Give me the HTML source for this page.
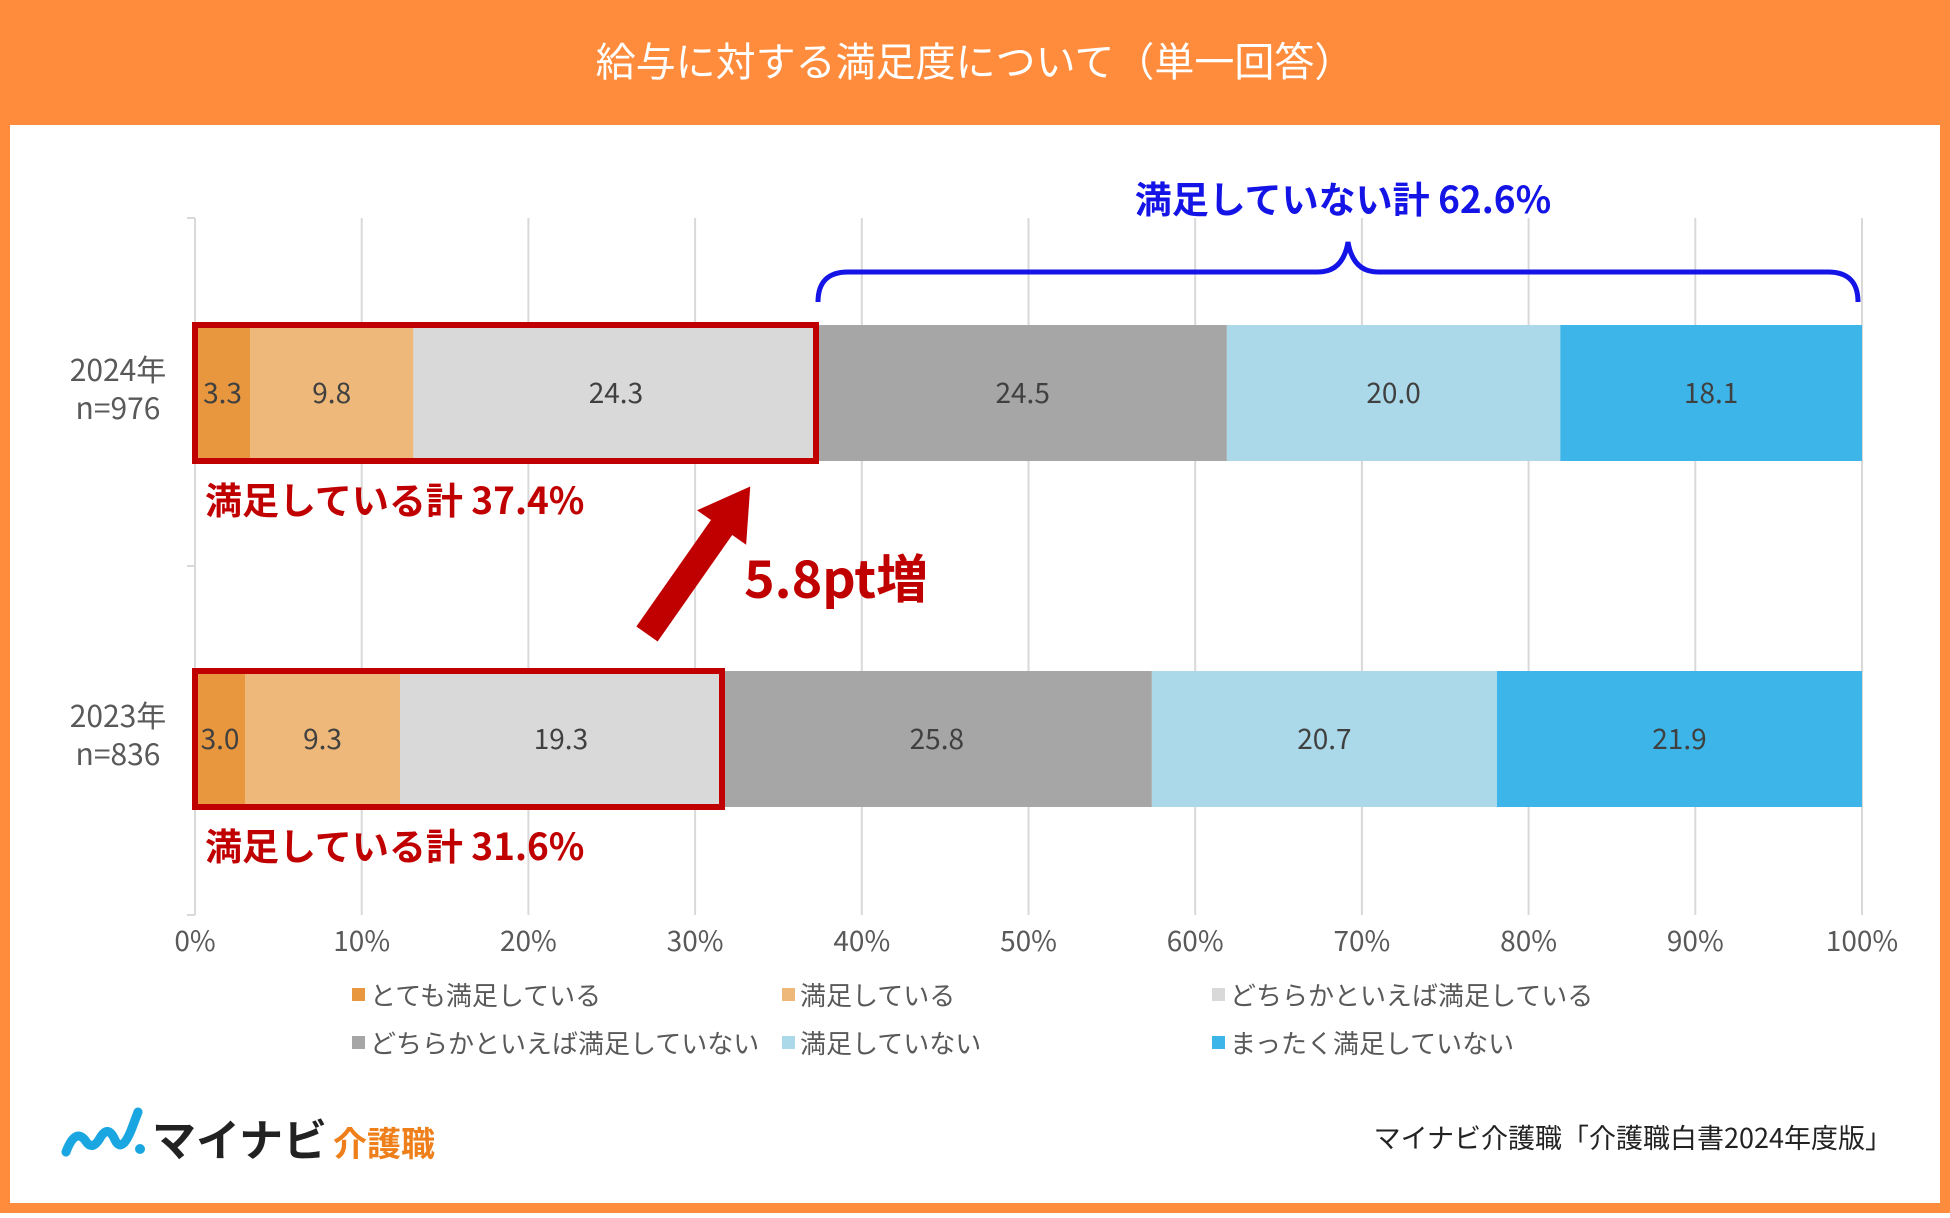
<!DOCTYPE html>
<html><head><meta charset="utf-8"><style>
body{margin:0;width:1950px;height:1213px;overflow:hidden;font-family:"Noto Sans CJK JP",sans-serif;}
</style></head><body>
<svg width="1950" height="1213" xmlns="http://www.w3.org/2000/svg" font-family="'Noto Sans CJK JP','Liberation Sans',sans-serif">
<rect x="0" y="0" width="1950" height="1213" fill="#FF8C3C"/>
<rect x="10" y="125" width="1930" height="1078" fill="#fff"/>
<text x="975" y="76" font-size="40" fill="#fff" text-anchor="middle">給与に対する満足度について（単一回答）</text>
<g id="grid"></g>
<g id="bars"></g>
<g id="legend"></g>
<rect x="195" y="325" width="621" height="136" fill="none" stroke="#C00000" stroke-width="6"/>
<rect x="195" y="671" width="527" height="136" fill="none" stroke="#C00000" stroke-width="6"/>
<text x="205" y="514" font-size="37" font-weight="bold" fill="#C00000">満足している計 37.4%</text>
<text x="205" y="860" font-size="37" font-weight="bold" fill="#C00000">満足している計 31.6%</text>
<path d="M818,302 Q818,272 848,272 L1318,272 Q1343,272 1348,242 Q1353,272 1378,272 L1828,272 Q1858,272 1858,302" fill="none" stroke="#1414E6" stroke-width="5"/>
<text x="1343" y="213" font-size="37" font-weight="bold" fill="#1414E6" text-anchor="middle">満足していない計 62.6%</text>
<g transform="translate(647,634) rotate(-55)">
<rect x="0" y="-13" width="135" height="26" fill="#C00000"/>
<polygon points="130,-30 180,0 130,30" fill="#C00000"/>
</g>
<text x="744" y="598" font-size="52" font-weight="bold" fill="#C00000">5.8pt増</text>
<g>
<path d="M66,1152 Q75,1128 85,1140 Q92,1152 100,1138 Q108,1124 115,1140 Q122,1154 132,1128 L138,1112" fill="none" stroke="#1AA6E0" stroke-width="9" stroke-linecap="round"/>
<circle cx="140" cy="1149" r="5" fill="#1AA6E0"/>
<text x="152" y="1156" font-size="44" font-weight="bold" fill="#222">マイナビ</text>
<text x="333" y="1156" font-size="34" font-weight="bold" fill="#EE7F1A">介護職</text>
</g>
<text x="1892" y="1148" font-size="27" fill="#222" text-anchor="end">マイナビ介護職「介護職白書2024年度版」</text>
<script>
const categories=["2024年","2023年"];
const samples=["n=976","n=836"];
const seriesNames=["とても満足している","満足している","どちらかといえば満足している","どちらかといえば満足していない","満足していない","まったく満足していない"];
const v2024=[3.3,9.8,24.3,24.5,20.0,18.1];
const v2023=[3.0,9.3,19.3,25.8,20.7,21.9];
const ticks=[0,10,20,30,40,50,60,70,80,90,100];
const colors=["#E8973E","#EDB879","#D9D9D9","#A6A6A6","#ABD9EA","#3DB5E8"];
const NS="http://www.w3.org/2000/svg";
const x0=195,x1=1862;
const xs=v=>x0+(x1-x0)*v/100;
const rowY=[325,671],barH=136;
function mk(t,a,p){const e=document.createElementNS(NS,t);for(const k in a)e.setAttribute(k,a[k]);p.appendChild(e);return e;}
const grid=document.getElementById('grid');
ticks.forEach(t=>{
 const l=mk('line',{x1:xs(t),x2:xs(t),y1:218,y2:915,stroke:'#D9D9D9','stroke-width':2},grid);
 
 
 const tx=mk('text',{x:xs(t),y:951,'font-size':28,fill:'#595959','text-anchor':'middle'},grid);
 tx.textContent=t+'%';
 
 
});
[218,566,915].forEach(y=>{mk('line',{x1:187,x2:195,y1:y,y2:y,stroke:'#D9D9D9','stroke-width':2},grid);});
const bars=document.getElementById('bars');
[v2024,v2023].forEach((vals,r)=>{
 let acc=0;const y=rowY[r];
 vals.forEach((v,i)=>{
  const rc=mk('rect',{x:xs(acc),y:y,width:xs(acc+v)-xs(acc),height:barH,fill:colors[i]},bars);
  
  
  const t=mk('text',{x:(xs(acc)+xs(acc+v))/2,y:y+barH/2+10,'font-size':28,fill:'#404040','text-anchor':'middle'},bars);
  t.textContent=v.toFixed(1);
  
  
  acc+=v;
 });
 const c=mk('text',{x:118,y:y+56,'font-size':30,fill:'#595959','text-anchor':'middle'},bars);
 c.textContent=categories[r];
 
 
 const s=mk('text',{x:118,y:y+94,'font-size':30,fill:'#595959','text-anchor':'middle'},bars);
 s.textContent=samples[r];
 
 
});
const lg=document.getElementById('legend');
const lx=[352,782,1212],ly=[997,1045];
seriesNames.forEach((n,i)=>{
 const X=lx[i%3],Y=ly[Math.floor(i/3)];
 const m=mk('rect',{x:X,y:Y-9,width:13,height:13,fill:colors[i]},lg);
 
 
 const t=mk('text',{x:X+18,y:Y+8,'font-size':26,fill:'#595959'},lg);
 t.textContent=n;
 
 
});
</script>
</svg>
</body></html>
